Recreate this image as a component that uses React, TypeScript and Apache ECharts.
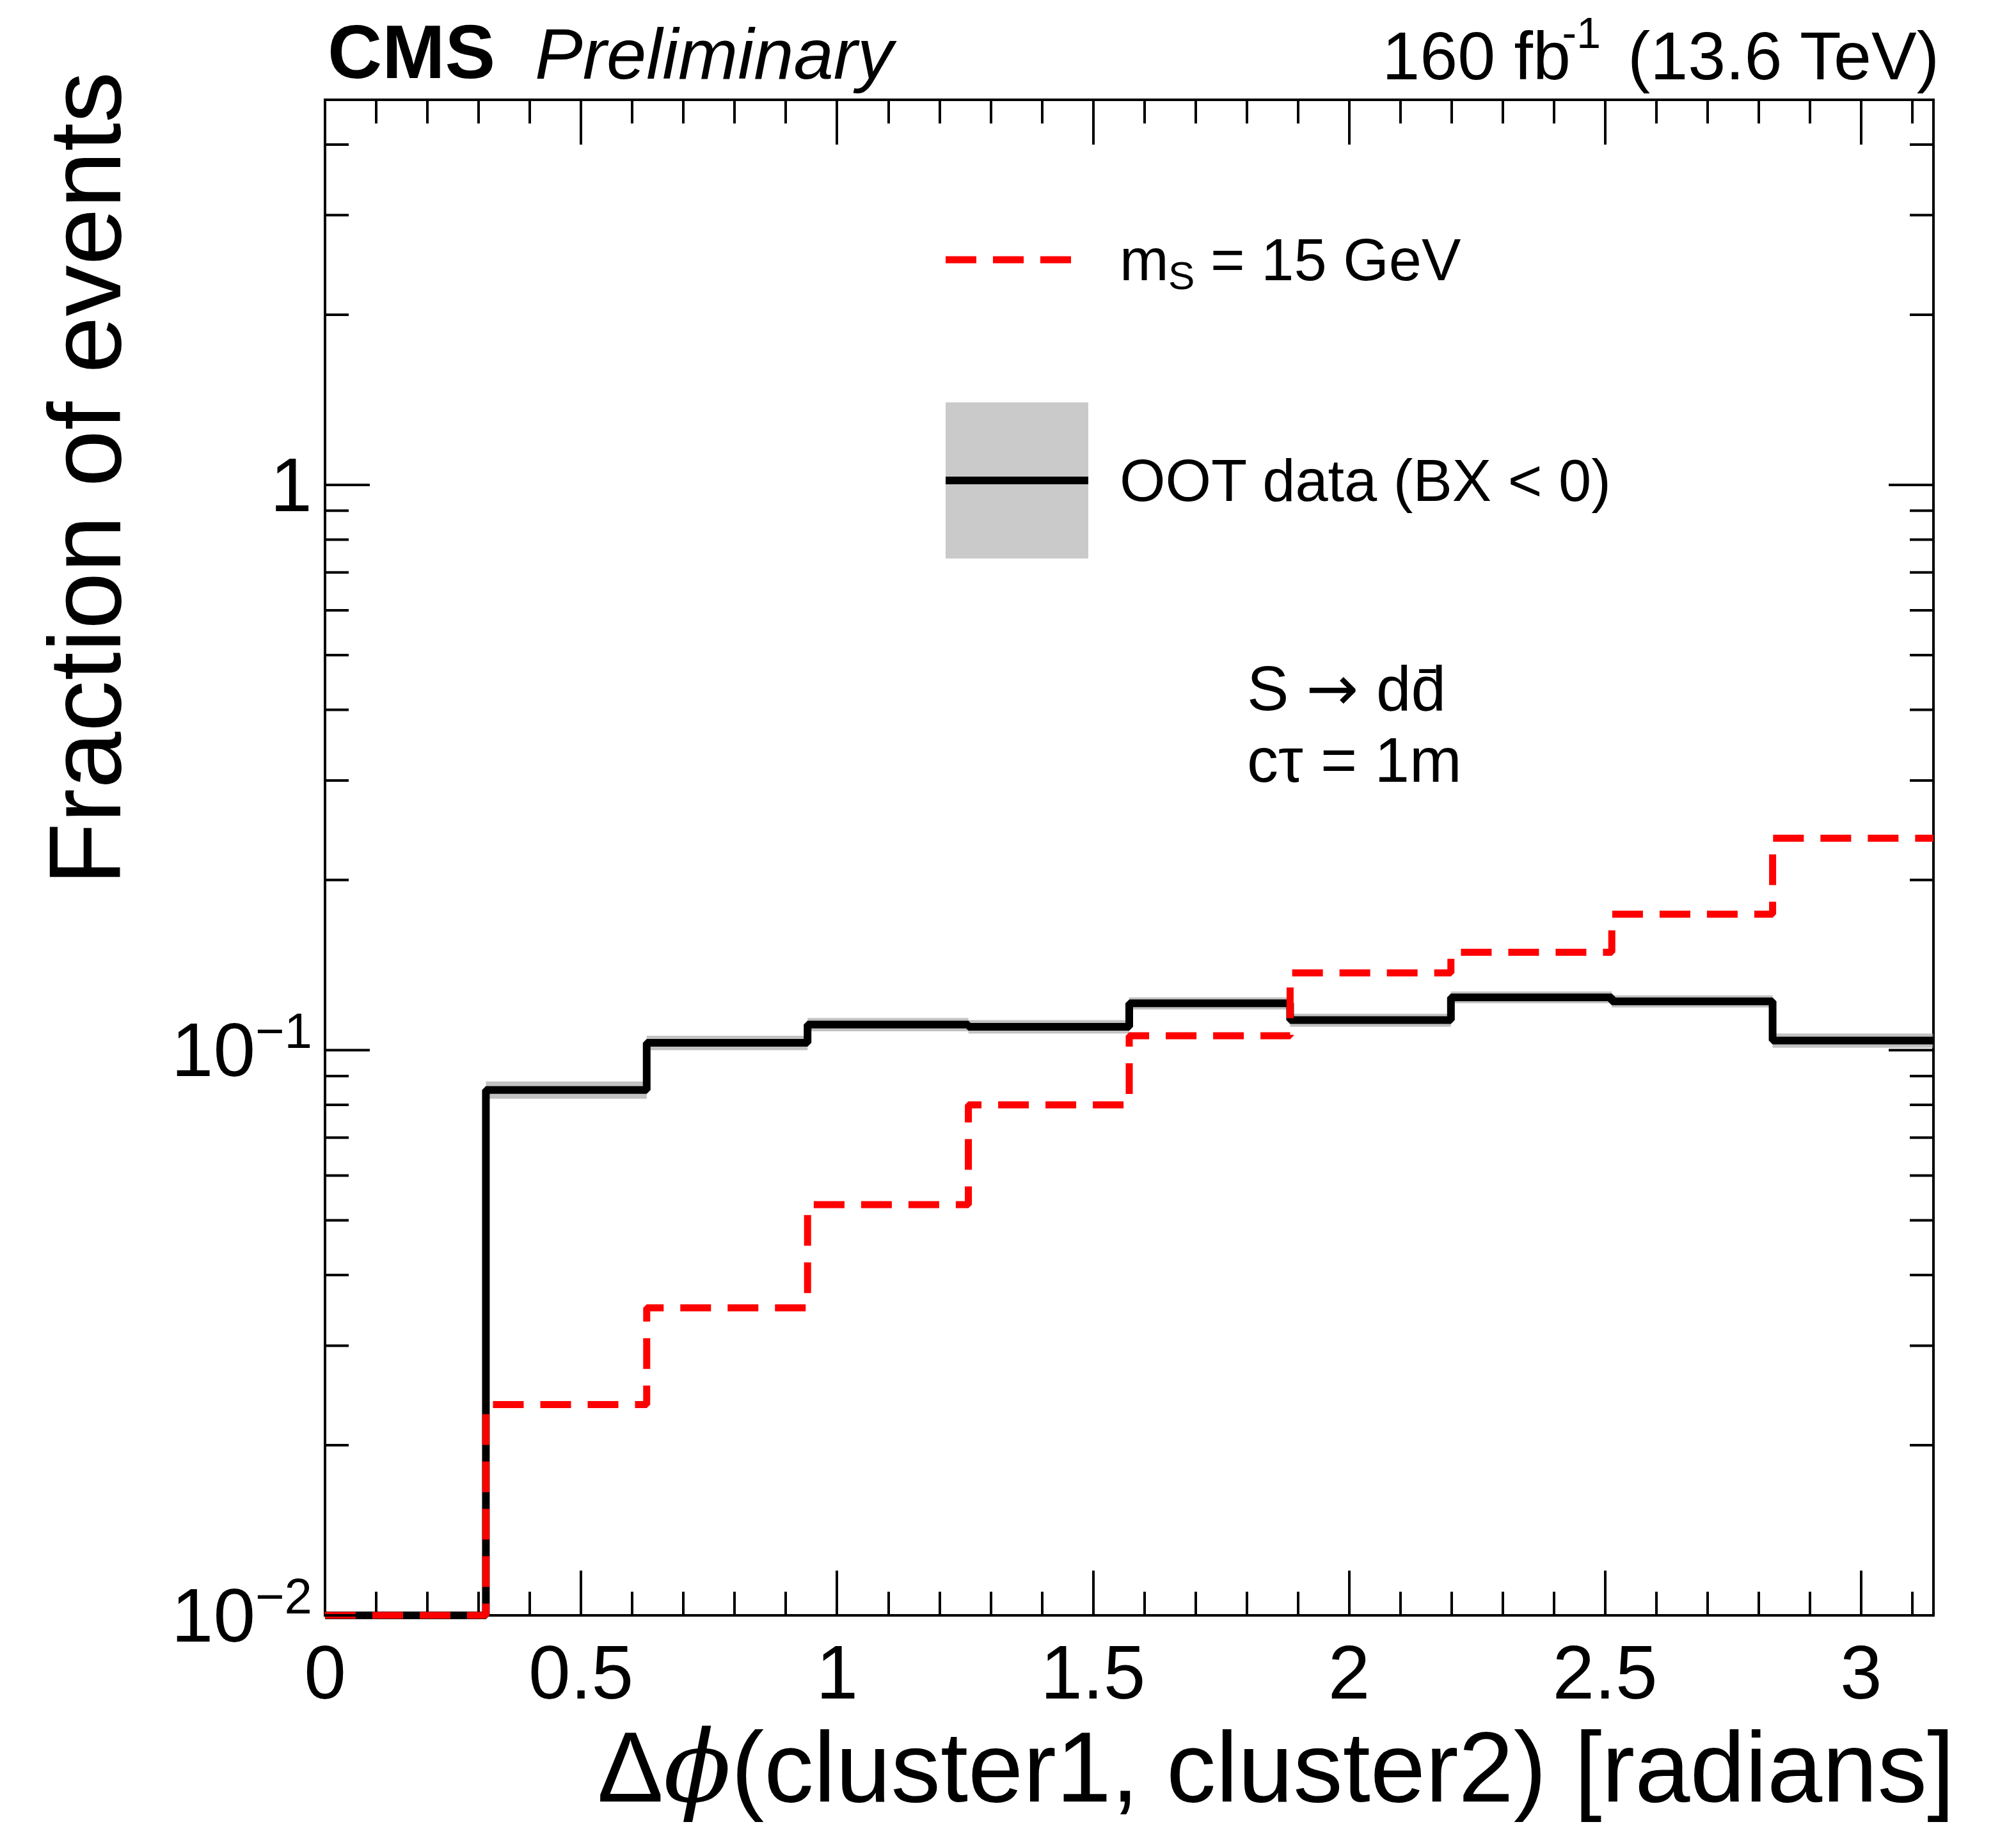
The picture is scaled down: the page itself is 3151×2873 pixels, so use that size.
import React, { useEffect, useRef } from 'react';
import * as echarts from 'echarts';

const binEdges = [0, 0.3142, 0.6283, 0.9425, 1.2566, 1.5708, 1.885, 2.1991, 2.5133, 2.8274, 3.1416];
const ootValues = [0, 0.085, 0.103, 0.111, 0.11, 0.121, 0.113, 0.124, 0.122, 0.104];
const ootErr = [0, 0.003, 0.003, 0.003, 0.003, 0.003, 0.003, 0.003, 0.003, 0.003];
const signalValues = [0, 0.0236, 0.035, 0.0533, 0.08, 0.106, 0.137, 0.149, 0.174, 0.237];
const yMin = 0.01;
const yMax = 4.8;
const yMinorTicks = [0.02, 0.03, 0.04, 0.05, 0.06, 0.07, 0.08, 0.09, 0.2, 0.3, 0.4, 0.5, 0.6, 0.7, 0.8, 0.9, 2, 3, 4];
const yMajorTicks = [0.01, 0.1, 1];

const FONT = '"Liberation Sans", Arial, sans-serif';

const stepData = (vals: number[]) => {
  const pts = vals.map((v, i) => [binEdges[i], Math.max(v, yMin)]);
  pts.push([binEdges[binEdges.length - 1], Math.max(vals[vals.length - 1], yMin)]);
  return pts;
};

const App: React.FC = () => {
  const chartref = useRef<HTMLDivElement>(null);
  useEffect(() => {
    document.body.style.margin = '0';
    const myChart = echarts.init(chartref.current as HTMLDivElement, undefined, { renderer: 'svg' });
    const xMax = Math.PI;
    const option: echarts.EChartsOption = {
      animation: false,
      backgroundColor: '#fff',
      grid: { left: 508, right: 129, top: 156, bottom: 348, show: true, borderColor: '#000', borderWidth: 4 },
      xAxis: [
        {
          type: 'value', min: 0, max: xMax, interval: 0.5,
          axisLine: { show: false },
          axisTick: { inside: true, length: 70, lineStyle: { color: '#000', width: 4 } },
          minorTick: { show: true, splitNumber: 5, length: 37, lineStyle: { color: '#000', width: 4 } },
          splitLine: { show: false },
          axisLabel: { fontFamily: FONT, fontSize: 118, color: '#000', margin: 30, showMaxLabel: false },
        },
        {
          type: 'value', min: 0, max: xMax, interval: 0.5, position: 'top',
          axisLine: { show: false },
          axisTick: { inside: true, length: 70, lineStyle: { color: '#000', width: 4 } },
          minorTick: { show: true, splitNumber: 5, length: 37, lineStyle: { color: '#000', width: 4 } },
          splitLine: { show: false },
          axisLabel: { show: false },
        },
      ],
      yAxis: {
        type: 'log', logBase: 10, min: yMin, max: yMax,
        axisLine: { show: false }, axisTick: { show: false }, splitLine: { show: false },
        axisLabel: {
          margin: 20,
          formatter: (v: number) => {
            if (Math.abs(v - 1) < 1e-9) return '{b|1}';
            if (Math.abs(v - 0.1) < 1e-9) return '{b|10}{s|\u22121}';
            if (Math.abs(v - 0.01) < 1e-9) return '{b|10}{s|\u22122}';
            return '';
          },
          rich: {
            b: { fontFamily: FONT, fontSize: 118, color: '#000' },
            s: { fontFamily: FONT, fontSize: 78, color: '#000', padding: [0, 0, 60, 0] },
          },
        },
      },
      series: [
        {
          type: 'custom',
          data: binEdges.slice(0, -1).map((e, i) => [e, binEdges[i + 1], ootValues[i], ootErr[i]]),
          renderItem: (params: any, api: any) => {
            const v = api.value(2);
            if (v <= 0) return null;
            const p1 = api.coord([api.value(0), v + api.value(3)]);
            const p2 = api.coord([api.value(1), v - api.value(3)]);
            return {
              type: 'rect',
              shape: { x: p1[0], y: p1[1], width: p2[0] - p1[0], height: p2[1] - p1[1] },
              style: { fill: '#9a9a9a', opacity: 0.6 },
            };
          },
          z: 1,
        },
        {
          type: 'line', step: 'end', data: stepData(ootValues), symbol: 'none',
          lineStyle: { color: '#000', width: 12 }, z: 2,
        },
        {
          type: 'line', step: 'end', data: stepData(signalValues), symbol: 'none',
          lineStyle: { color: '#ff0000', width: 11, type: [48, 26] }, z: 3,
        },
        {
          type: 'custom',
          data: [...yMinorTicks.map((v) => [v, 0]), ...yMajorTicks.map((v) => [v, 1])],
          renderItem: (params: any, api: any) => {
            const v = api.value(0);
            const len = api.value(1) ? 70 : 37;
            const l = api.coord([0, v]);
            const r = api.coord([xMax, v]);
            return {
              type: 'group',
              children: [
                { type: 'line', shape: { x1: l[0], y1: l[1], x2: l[0] + len, y2: l[1] }, style: { stroke: '#000', lineWidth: 4 } },
                { type: 'line', shape: { x1: r[0], y1: r[1], x2: r[0] - len, y2: r[1] }, style: { stroke: '#000', lineWidth: 4 } },
              ],
            };
          },
          z: 4,
        },
      ],
      graphic: [
        { type: 'text', x: 512, y: 140, style: { text: 'CMS', font: `bold 118px ${FONT}`, fill: '#000', textVerticalAlign: 'bottom' } },
        { type: 'text', x: 836, y: 140, style: { text: 'Preliminary', font: `italic 112px ${FONT}`, fill: '#000', textVerticalAlign: 'bottom' } },
        { type: 'text', x: 3031, y: 140, style: { text: '(13.6 TeV)', font: `106px ${FONT}`, fill: '#000', align: 'right', verticalAlign: 'bottom' } },
        { type: 'text', x: 2502, y: 85, style: { text: '-1', font: `68px ${FONT}`, fill: '#000', align: 'right', verticalAlign: 'bottom' } },
        { type: 'text', x: 2455, y: 140, style: { text: '160 fb', font: `106px ${FONT}`, fill: '#000', align: 'right', verticalAlign: 'bottom' } },
        {
          type: 'text', x: 132, y: 112, rotation: Math.PI / 2,
          style: { text: 'Fraction of events', font: `160px ${FONT}`, fill: '#000', align: 'right', verticalAlign: 'middle' },
        },
        {
          type: 'text', x: 3055, y: 2840,
          style: {
            text: '{n|\u0394}{p|\u03d5}{n|(cluster1, cluster2) [radians]}', align: 'right', verticalAlign: 'bottom',
            rich: { n: { font: `155px ${FONT}`, fill: '#000' }, p: { font: `italic 155px "DejaVu Serif", serif`, fill: '#000' } },
          } as any,
        },
        { type: 'line', shape: { x1: 1478, y1: 406, x2: 1681, y2: 406 }, style: { stroke: '#ff0000', lineWidth: 11, lineDash: [48, 26] } },
        { type: 'text', x: 1750, y: 406, style: { text: 'm', font: `92px ${FONT}`, fill: '#000', verticalAlign: 'middle' } },
        { type: 'text', x: 1826, y: 430, style: { text: 'S', font: `62px ${FONT}`, fill: '#000', verticalAlign: 'middle' } },
        { type: 'text', x: 1892, y: 406, style: { text: '= 15 GeV', font: `92px ${FONT}`, fill: '#000', verticalAlign: 'middle' } },
        { type: 'rect', shape: { x: 1478, y: 629, width: 223, height: 244 }, style: { fill: '#bdbdbd', opacity: 0.8 } },
        { type: 'line', shape: { x1: 1478, y1: 751, x2: 1701, y2: 751 }, style: { stroke: '#000', lineWidth: 12 } },
        { type: 'text', x: 1750, y: 751, style: { text: 'OOT data (BX < 0)', font: `92px ${FONT}`, fill: '#000', verticalAlign: 'middle' } },
        {
          type: 'text', x: 1949, y: 1076,
          style: {
            text: '{n|S }{a|\u2192}{n| dd\u0304}', verticalAlign: 'middle',
            rich: { n: { font: `98px ${FONT}`, fill: '#000' }, a: { font: `98px "DejaVu Sans", sans-serif`, fill: '#000' } },
          } as any,
        },
        { type: 'text', x: 1949, y: 1188, style: { text: 'c\u03c4 = 1m', font: `98px ${FONT}`, fill: '#000', verticalAlign: 'middle' } },
      ],
    };
    myChart.setOption(option);
    return () => {
      myChart.dispose();
    };
  }, []);

  return <div ref={chartref} style={{ width: '3151px', height: '2873px' }} />;
};

export default App;
